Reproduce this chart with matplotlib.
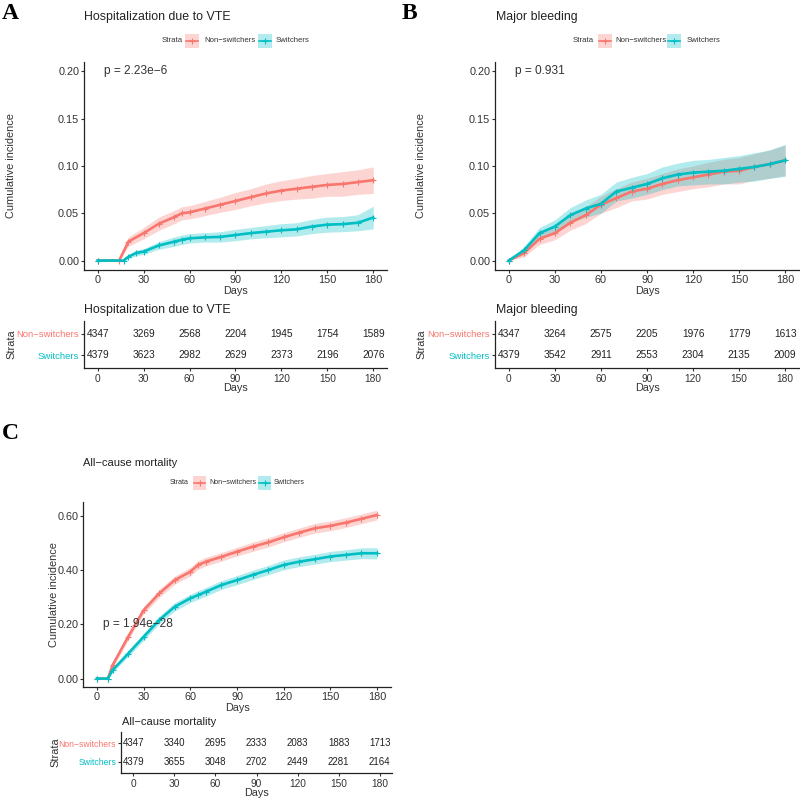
import numpy as np
import matplotlib
matplotlib.use("Agg")
import matplotlib.pyplot as plt
from matplotlib.patches import Rectangle
from matplotlib.lines import Line2D

plt.rcParams['font.family'] = ['Liberation Sans', 'DejaVu Sans']

RED = '#F8766D'
TEAL = '#00BFC4'
TXT = '#333333'
W, H = 800, 798

groups = ['Non\u2212switchers', 'Switchers']
table_days = [0, 30, 60, 90, 120, 150, 180]

# Panel A - hospitalization due to VTE
a_title = 'Hospitalization due to VTE'
a_pval = 'p = 2.23e\u22126'
a_ns_days = [0, 14, 20, 30, 40, 50, 55, 60, 70, 80, 90, 100, 110, 120, 130, 140, 150, 160, 170, 180]
a_ns_inc = [0, 0, 0.020, 0.029, 0.039, 0.046, 0.050, 0.051, 0.055, 0.059, 0.063, 0.067, 0.071, 0.074,
            0.076, 0.078, 0.080, 0.081, 0.083, 0.085]
a_ns_hw = [0, 0, 0.005, 0.006, 0.007, 0.007, 0.007, 0.007, 0.0075, 0.008, 0.009, 0.009, 0.010, 0.0105,
           0.011, 0.012, 0.012, 0.013, 0.013, 0.014]
a_sw_days = [0, 17, 20, 25, 30, 40, 50, 55, 60, 70, 80, 90, 100, 110, 120, 130, 140, 150, 160, 170, 180]
a_sw_inc = [0, 0, 0.004, 0.008, 0.0095, 0.016, 0.020, 0.022, 0.0235, 0.0245, 0.025, 0.027, 0.029, 0.0305,
            0.032, 0.033, 0.036, 0.038, 0.0385, 0.040, 0.0455]
a_sw_hw = [0, 0, 0.002, 0.003, 0.003, 0.004, 0.005, 0.005, 0.005, 0.005, 0.0055, 0.006, 0.006, 0.0065,
           0.007, 0.007, 0.0075, 0.008, 0.008, 0.0085, 0.012]
a_risk_ns = [4347, 3269, 2568, 2204, 1945, 1754, 1589]
a_risk_sw = [4379, 3623, 2982, 2629, 2373, 2196, 2076]

# Panel B - major bleeding
b_title = 'Major bleeding'
b_pval = 'p = 0.931'
b_days = [0, 10, 20, 30, 40, 50, 60, 70, 80, 90, 100, 110, 120, 130, 140, 150, 160, 170, 180]
b_ns_inc = [0, 0.008, 0.023, 0.029, 0.040, 0.048, 0.059, 0.066, 0.073, 0.076, 0.081, 0.085, 0.088,
            0.091, 0.094, 0.095, 0.099, 0.102, 0.106]
b_ns_hw = [0, 0.004, 0.006, 0.007, 0.008, 0.009, 0.009, 0.010, 0.010, 0.011, 0.011, 0.012, 0.012,
           0.013, 0.013, 0.014, 0.014, 0.015, 0.016]
b_sw_inc = [0, 0.011, 0.029, 0.036, 0.048, 0.055, 0.060, 0.073, 0.077, 0.081, 0.087, 0.091, 0.093,
            0.094, 0.095, 0.097, 0.099, 0.102, 0.106]
b_sw_hw = [0, 0.004, 0.006, 0.007, 0.008, 0.009, 0.010, 0.010, 0.011, 0.011, 0.012, 0.012, 0.013,
           0.013, 0.014, 0.014, 0.015, 0.015, 0.017]
b_risk_ns = [4347, 3264, 2575, 2205, 1976, 1779, 1613]
b_risk_sw = [4379, 3542, 2911, 2553, 2304, 2135, 2009]

# Panel C - all-cause mortality
c_title = 'All\u2212cause mortality'
c_pval = 'p = 1.94e\u221228'
c_days = [0, 7, 10, 20, 30, 40, 50, 60, 65, 70, 80, 90, 100, 110, 120, 130, 140, 150, 160, 170, 180]
c_ns_inc = [0, 0, 0.049, 0.154, 0.252, 0.314, 0.363, 0.394, 0.419, 0.431, 0.449, 0.468, 0.486, 0.502,
            0.521, 0.538, 0.554, 0.563, 0.575, 0.589, 0.603]
c_ns_hw = [0, 0, 0.010, 0.013, 0.014, 0.015, 0.015, 0.016, 0.016, 0.016, 0.016, 0.016, 0.017, 0.017,
           0.017, 0.017, 0.018, 0.018, 0.018, 0.018, 0.018]
c_sw_inc = [0, 0, 0.031, 0.092, 0.154, 0.216, 0.265, 0.296, 0.308, 0.320, 0.345, 0.363, 0.382, 0.400,
            0.419, 0.431, 0.440, 0.450, 0.456, 0.462, 0.462]
c_sw_hw = [0, 0, 0.008, 0.011, 0.013, 0.014, 0.015, 0.015, 0.016, 0.016, 0.016, 0.017, 0.017, 0.017,
           0.018, 0.018, 0.018, 0.019, 0.019, 0.020, 0.021]
c_risk_ns = [4347, 3340, 2695, 2333, 2083, 1883, 1713]
c_risk_sw = [4379, 3655, 3048, 2702, 2449, 2281, 2164]


def px_rect(left, top, right, bottom):
    # pixel box (from top-left) -> figure fraction rect
    return [left / W, 1 - bottom / H, (right - left) / W, (bottom - top) / H]


def style_axis(ax, fs=7.8):
    for s in ['top', 'right']:
        ax.spines[s].set_visible(False)
    for s in ['left', 'bottom']:
        ax.spines[s].set_color('#222222')
        ax.spines[s].set_linewidth(0.9)
    ax.tick_params(length=2.5, width=0.8, color='#333333', labelsize=fs, labelcolor=TXT, pad=1)


def curve(ax, days, inc, hw, color):
    days = np.array(days)
    inc = np.array(inc)
    hw = np.array(hw)
    ax.fill_between(days, inc - hw, inc + hw, color=color, alpha=0.3, lw=0)
    ax.plot(days, inc, color=color, lw=1.9, marker='+', ms=4, mew=0.8)


def km_panel(rect, series, ylim, yticks, pval, pval_y, ylab_x):
    ax = fig.add_axes(px_rect(*rect))
    for days, inc, hw, color in series:
        curve(ax, days, inc, hw, color)
    ax.set_xlim(-9, 189)
    ax.set_ylim(*ylim)
    ax.set_xticks(table_days)
    ax.set_yticks(yticks)
    ax.set_yticklabels(['%.2f' % v for v in yticks])
    style_axis(ax)
    ax.set_xlabel('Days', fontsize=7.8, color=TXT, labelpad=0.5)
    ax.set_ylabel('Cumulative incidence', fontsize=7.9, color=TXT)
    ax.yaxis.set_label_coords(ylab_x, 0.5)
    ax.text(4, pval_y, pval, fontsize=8.6, color=TXT, va='center', ha='left')
    return ax


def risk_table(rect, risk_ns, risk_sw, num_fs, lab_fs, strata_x):
    ax = fig.add_axes(px_rect(*rect))
    for d, n in zip(table_days, risk_ns):
        ax.text(d, 2, str(n), ha='center', va='center', fontsize=num_fs, color='#222222')
    for d, n in zip(table_days, risk_sw):
        ax.text(d, 1, str(n), ha='center', va='center', fontsize=num_fs, color='#222222')
    ax.set_xlim(-9, 189)
    ax.set_ylim(0.4, 2.6)
    ax.set_xticks(table_days)
    ax.set_yticks([2, 1])
    ax.set_yticklabels(groups)
    style_axis(ax, fs=lab_fs)
    ax.tick_params(axis='x', labelsize=7.3, pad=1.5)
    for lab, c in zip(ax.get_yticklabels(), [RED, TEAL]):
        lab.set_color(c)
    ax.set_xlabel('Days', fontsize=7.8, color=TXT, labelpad=-0.5)
    ax.set_ylabel('Strata', fontsize=7.9, color=TXT)
    ax.yaxis.set_label_coords(strata_x, 0.5)
    return ax


def legend(y, xs, key_w, fs=5.6):
    # ggplot-like horizontal legend drawn in figure pixels
    # xs: Strata x, key1 x, label1 x, key2 x, label2 x
    def fx(v):
        return v / W

    def fy(v):
        return 1 - v / H
    fig.text(fx(xs[0]), fy(y), 'Strata', fontsize=fs, color=TXT, va='center', ha='left')
    for (kx, lx), lab, col in zip([(xs[1], xs[2]), (xs[3], xs[4])], groups, [RED, TEAL]):
        fig.add_artist(Rectangle((fx(kx), fy(y + 7)), key_w / W, 14 / H, transform=fig.transFigure,
                                 facecolor=col, alpha=0.3, lw=0))
        fig.add_artist(Line2D([fx(kx + 1), fx(kx + key_w - 1)], [fy(y), fy(y)], transform=fig.transFigure,
                              color=col, lw=1.2))
        fig.add_artist(Line2D([fx(kx + key_w / 2)], [fy(y)], transform=fig.transFigure, color=col,
                              marker='+', ms=4, mew=0.8))
        fig.text(fx(lx), fy(y), lab, fontsize=fs, color=TXT, va='center', ha='left')


fig = plt.figure(figsize=(8, 7.98), dpi=100)

# panel letters
for lab, x, y in [('A', 2, 3), ('B', 402, 3), ('C', 2, 423)]:
    fig.text(x / W, 1 - y / H, lab, fontsize=17, fontweight='bold', family='Liberation Serif',
             va='top', ha='left')

# titles
for t, x, y, fs in [(a_title, 84, 17, 8.9), (b_title, 496, 17, 8.9), (c_title, 83, 463, 8.0),
                    (a_title, 84, 310, 8.9), (b_title, 496, 310, 8.9), (c_title, 122, 722, 8.0)]:
    fig.text(x / W, 1 - y / H, t, fontsize=fs, color='#222222', va='center', ha='left')

legend(41, [162, 185, 204, 258, 276], 14)
legend(41, [573, 598, 615, 667, 687], 14)
legend(483, [170, 193, 209, 258, 274], 13, fs=5.1)

yt = [0, 0.05, 0.10, 0.15, 0.20]
km_panel((84, 62, 387, 270),
         [(a_ns_days, a_ns_inc, a_ns_hw, RED), (a_sw_days, a_sw_inc, a_sw_hw, TEAL)],
         (-0.01, 0.21), yt, a_pval, 0.2, -0.224)
km_panel((495, 62, 799, 270),
         [(b_days, b_ns_inc, b_ns_hw, RED), (b_days, b_sw_inc, b_sw_hw, TEAL)],
         (-0.01, 0.21), yt, b_pval, 0.2, -0.227)
km_panel((83, 502, 391, 687),
         [(c_days, c_ns_inc, c_ns_hw, RED), (c_days, c_sw_inc, c_sw_hw, TEAL)],
         (-0.031, 0.651), [0, 0.2, 0.4, 0.6], c_pval, 0.2, -0.078)

risk_table((84, 321, 387, 368), a_risk_ns, a_risk_sw, 7.3, 6.8, -0.224)
risk_table((495, 321, 799, 368), b_risk_ns, b_risk_sw, 7.3, 6.8, -0.227)
risk_table((121, 732, 392, 773), c_risk_ns, c_risk_sw, 7.0, 6.2, -0.225)

plt.savefig('out.png', dpi=100)
